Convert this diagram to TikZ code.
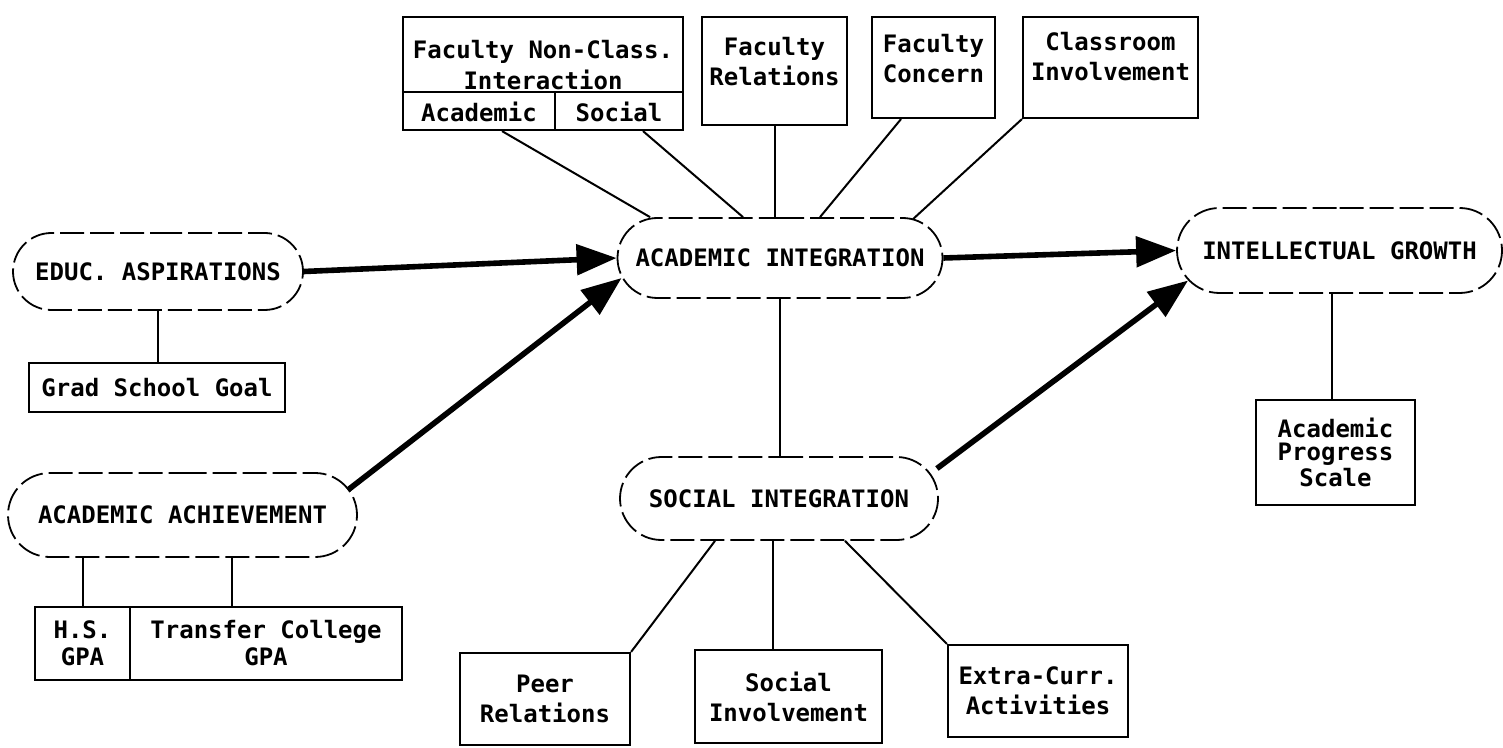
\documentclass[tikz,border=0pt]{standalone}
\usepackage{fontspec}
\newfontfamily\dmono{DejaVu Sans Mono}
\usetikzlibrary{shapes.misc,arrows.meta}
\begin{document}
\begin{tikzpicture}[x=0.5pt,y=-0.5pt,
  lbl/.style={font=\dmono\bfseries\fontsize{12}{15}\selectfont, inner sep=0pt, align=center},
  boxn/.style={draw, line width=1.1pt, inner sep=0pt, lbl},
  stad/.style={draw, rounded rectangle, line width=0.9pt, inner sep=0pt, lbl, dash pattern=on 12pt off 3pt},
  conn/.style={line width=1pt},
  flow/.style={line width=2.8pt, -{Triangle[length=20pt,width=15pt]}}]
\useasboundingbox (0,0) rectangle (1503,748);

% top boxes
\node[boxn, minimum width=140pt, minimum height=56.5pt] (fnc) at (543,73.5) {};
\node[lbl] (fnct1) at (543,52) {Faculty Non-Class.};
\node[lbl] (fnct2) at (543,80) {Interaction};
\node[lbl] (fnca) at (479,112) {Academic};
\node[lbl] (fncs) at (619,112) {Social};
\draw[line width=1.1pt] (fnc.west |- 0,92) -- (fnc.east |- 0,92);
\draw[line width=1.1pt] (555,92) -- (fnc.south -| 555,0);

\node[boxn, minimum width=72.5pt, minimum height=54pt] (fr) at (774.5,71) {};
\node[lbl] (frt) at (774.5,62) {Faculty\\Relations};
\node[boxn, minimum width=61.5pt, minimum height=50.5pt] (fc) at (933.5,67.5) {};
\node[lbl] (fct) at (933.5,59) {Faculty\\Concern};
\node[boxn, minimum width=87.5pt, minimum height=50.5pt] (ci) at (1110.5,67.5) {};
\node[lbl] (cit) at (1110.5,57) {Classroom\\Involvement};

% left column
\node[stad, minimum width=145pt, minimum height=38.5pt] (educ) at (158,271.5) {EDUC. ASPIRATIONS};
\node[boxn, minimum width=128pt, minimum height=24.5pt] (gsg) at (157,387.5) {Grad School Goal};
\node[stad, minimum width=174.5pt, minimum height=42pt] (aa) at (182.5,515) {ACADEMIC ACHIEVEMENT};
\node[boxn, minimum width=47.5pt, minimum height=36.5pt, font=\dmono\bfseries\fontsize{12}{13.5}\selectfont] (hs) at (82.5,643.5) {H.S.\\GPA};
\node[boxn, minimum width=136pt, minimum height=36.5pt, font=\dmono\bfseries\fontsize{12}{13.5}\selectfont] (tc) at (266,643.5) {Transfer College\\GPA};

% centre
\node[stad, minimum width=162.5pt, minimum height=40pt] (ai) at (780,258) {ACADEMIC INTEGRATION};
\node[stad, minimum width=159pt, minimum height=41.5pt] (si) at (779,498.5) {SOCIAL INTEGRATION};
\node[boxn, minimum width=85pt, minimum height=46pt] (peer) at (545,699) {Peer\\Relations};
\node[boxn, minimum width=93.5pt, minimum height=46.5pt] (sinv) at (788.5,696.5) {Social\\Involvement};
\node[boxn, minimum width=90pt, minimum height=46pt] (eca) at (1038,691) {Extra-Curr.\\Activities};

% right
\node[stad, minimum width=162.5pt, minimum height=42.5pt] (ig) at (1339.5,250.5) {INTELLECTUAL GROWTH};
\node[boxn, minimum width=79.5pt, minimum height=52.5pt, font=\dmono\bfseries\fontsize{12}{11.5}\selectfont] (aps) at (1335.5,452.5) {Academic\\Progress\\Scale};

% thin connectors
\draw[conn] ([xshift=-20.5pt]fnc.south) -- ([xshift=-65pt]ai.north);
\draw[conn] ([xshift=50pt]fnc.south) -- ([xshift=-18.5pt]ai.north);
\draw[conn] (fr.south) -- (fr.south |- ai.north);
\draw[conn] ([xshift=-16.25pt]fc.south) -- ([xshift=20pt]ai.north);
\draw[conn] (ci.south west) -- ([xshift=66.5pt,yshift=-1pt]ai.north);
\draw[conn] (educ.south) -- (educ.south |- gsg.north);
\draw[conn] (hs.north) -- (hs.north |- aa.south);
\draw[conn] ([xshift=-17pt]tc.north) -- ([xshift=-17pt]tc.north |- aa.south);
\draw[conn] (ai.south) -- (ai.south |- si.north);
\draw[conn] ([xshift=-32pt]si.south) -- (peer.north east);
\draw[conn] ([xshift=-7.75pt]sinv.north) -- ([xshift=-7.75pt]sinv.north |- si.south);
\draw[conn] ([xshift=33pt]si.south) -- (eca.north west);
\draw[conn] ([xshift=-2pt]aps.north) -- ([xshift=-2pt]aps.north |- ig.south);

% thick arrows
\draw[flow] (educ.east) -- (ai.west);
\draw[flow] ([xshift=-5pt,yshift=12.5pt]aa.east) -- ([xshift=2.5pt,yshift=-10pt]ai.west);
\draw[flow] (ai.east) -- (ig.west);
\draw[flow] ([xshift=-1pt,yshift=15pt]si.east) -- ([xshift=6pt,yshift=-15pt]ig.west);
\end{tikzpicture}
\end{document}
